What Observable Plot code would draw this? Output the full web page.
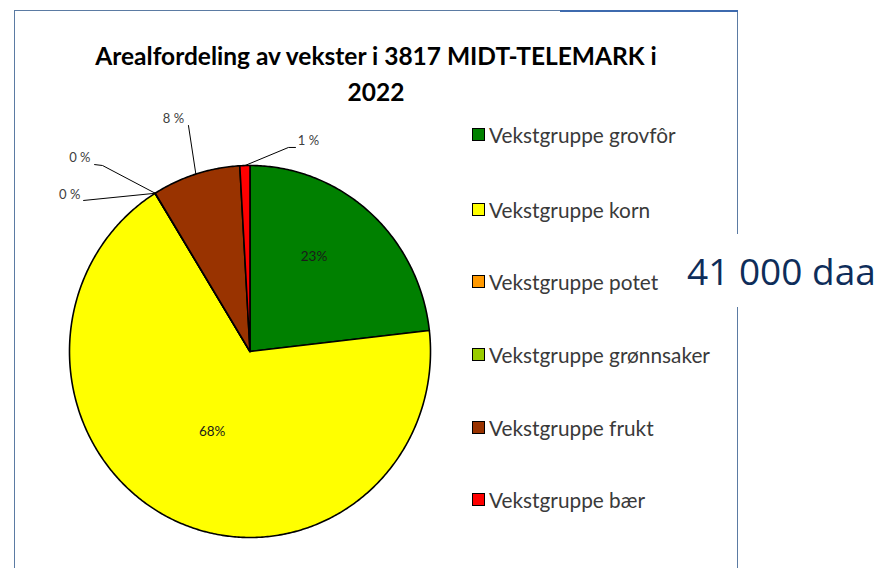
<!DOCTYPE html>
<html>
<head>
<meta charset="utf-8">
<script src="https://cdn.jsdelivr.net/npm/d3@7"></script>
<script src="https://cdn.jsdelivr.net/npm/@observablehq/plot@0.6"></script>
<style>
  html, body { margin: 0; padding: 0; background: #fff; }
  #wrap { position: relative; width: 884px; height: 568px; overflow: hidden; background: #fff; }
  #frame { position: absolute; left: 14px; top: 10px; width: 722px; height: 600px; border-left: 1.5px solid #5b7ba3; border-top: 1.5px solid #5b7ba3; border-right: 1.5px solid #5b7ba3; }
  #frameHi { position: absolute; left: 560px; top: 10px; width: 178px; height: 2px; background: #3d6aae; }
  #title { position: absolute; left: 14px; width: 724px; top: 38px; text-align: center; font-family: Lato, sans-serif; font-weight: bold; font-size: 24.5px; line-height: 36px; color: #000; }
  #plot { position: absolute; left: 0; top: 0; }
  #legend { position: absolute; left: 472px; top: 0; font-family: Lato, sans-serif; font-size: 20.8px; color: #3a3a3a; }
  .li { position: absolute; white-space: nowrap; display: flex; align-items: center; }
  .sw { width: 11px; height: 11px; border: 1px solid #000; margin-right: 4px; }
  #daa { position: absolute; left: 680px; top: 234px; width: 204px; height: 73px; background: #fff; font-family: "Open Sans", sans-serif; font-size: 37px; color: #0e2d5a; line-height: 73px; padding-left: 7px; box-sizing: border-box; }
</style>
</head>
<body>
<div id="wrap">
  <div id="frame"></div>
  <div id="frameHi"></div>
  <div id="plot"></div>
  <div id="title">Arealfordeling av vekster i 3817 MIDT-TELEMARK i<br>2022</div>
  <div id="legend"></div>
  <div id="daa">41 000 daa</div>
</div>
<script>
// ---- data ----
const categories = ["Vekstgruppe grovfôr", "Vekstgruppe korn", "Vekstgruppe potet", "Vekstgruppe grønnsaker", "Vekstgruppe frukt", "Vekstgruppe bær"];
const values = [23.2, 68.0, 0.01, 0.01, 7.9, 0.9];
const labels = ["23%", "68%", "0 %", "0 %", "8 %", "1 %"];
const colors = ["#008000", "#ffff00", "#ff9900", "#99cc00", "#993300", "#ff0000"];

// ---- layout (label placement, in pie-radius units) ----
const insideLayout = { 0: { r: 0.62, da: -0.12 }, 1: { r: 0.48, da: 0 } };
const outsideLayout = {
  2: { elbows: [[-0.922, 0.812]], text: [-0.94, 0.845], anchor: "end" },
  3: { elbows: [[-0.817, 1.0], [-0.861, 1.005]], text: [-0.884, 1.043], anchor: "end" },
  4: { elbows: [[-0.341, 1.215]], text: [-0.424, 1.25], anchor: "middle" },
  5: { elbows: [[0.213, 1.097], [0.252, 1.097]], text: [0.265, 1.13], anchor: "start" }
};
const legendY = [134, 209, 281, 354, 427, 499];

// ---- pie geometry ----
const arcs = d3.pie().sort(null).value(d => d)(values);
const slicePts = [];
arcs.forEach((a, i) => {
  const n = Math.max(2, Math.ceil((a.endAngle - a.startAngle) / 0.01));
  slicePts.push({ k: i, x: 0, y: 0, c: colors[i] });
  for (let j = 0; j <= n; j++) {
    const t = a.startAngle + (a.endAngle - a.startAngle) * j / n;
    slicePts.push({ k: i, x: Math.sin(t), y: Math.cos(t), c: colors[i] });
  }
  slicePts.push({ k: i, x: 0, y: 0, c: colors[i] });
});

const inside = [], leaders = [], outside = [];
arcs.forEach((a, i) => {
  const mid = (a.startAngle + a.endAngle) / 2;
  if (insideLayout[i]) {
    const L = insideLayout[i];
    inside.push({ x: L.r * Math.sin(mid + L.da), y: L.r * Math.cos(mid + L.da), t: labels[i] });
  } else if (outsideLayout[i]) {
    const L = outsideLayout[i];
    leaders.push({ k: i, x: Math.sin(mid), y: Math.cos(mid) });
    L.elbows.forEach(p => leaders.push({ k: i, x: p[0], y: p[1] }));
    outside.push({ x: L.text[0], y: L.text[1], t: labels[i], a: L.anchor });
  }
});

const chart = Plot.plot({
  width: 884, height: 568,
  margin: 0,
  x: { domain: [-1, 1], range: [69, 430], axis: null },
  y: { domain: [-1, 1], range: [537, 165], axis: null },
  marks: [
    Plot.line(slicePts, { x: "x", y: "y", z: "k", fill: "c", stroke: "#000", strokeWidth: 1.6, strokeLinejoin: "round", curve: "linear" }),
    Plot.line(leaders, { x: "x", y: "y", z: "k", stroke: "#000", strokeWidth: 1 }),
    Plot.text(inside, { x: "x", y: "y", text: "t", fontSize: 13.5, fill: "#1a1a1a", fontFamily: "Lato, sans-serif" }),
    Plot.text(outside.filter(d => d.a === "end"), { x: "x", y: "y", text: "t", textAnchor: "end", fontSize: 13, fill: "#404040", fontFamily: "Lato, sans-serif" }),
    Plot.text(outside.filter(d => d.a === "middle"), { x: "x", y: "y", text: "t", textAnchor: "middle", fontSize: 13, fill: "#404040", fontFamily: "Lato, sans-serif" }),
    Plot.text(outside.filter(d => d.a === "start"), { x: "x", y: "y", text: "t", textAnchor: "start", fontSize: 13, fill: "#404040", fontFamily: "Lato, sans-serif" })
  ]
});
chart.style.background = "transparent";
document.getElementById("plot").appendChild(chart);

const leg = document.getElementById("legend");
categories.forEach((c, i) => {
  const row = document.createElement("div");
  row.className = "li";
  row.style.top = (legendY[i] - 12) + "px";
  row.style.height = "24px";
  const sw = document.createElement("span");
  sw.className = "sw";
  sw.style.background = colors[i];
  const tx = document.createElement("span");
  tx.textContent = c;
  row.appendChild(sw); row.appendChild(tx);
  leg.appendChild(row);
});
</script>
</body>
</html>
